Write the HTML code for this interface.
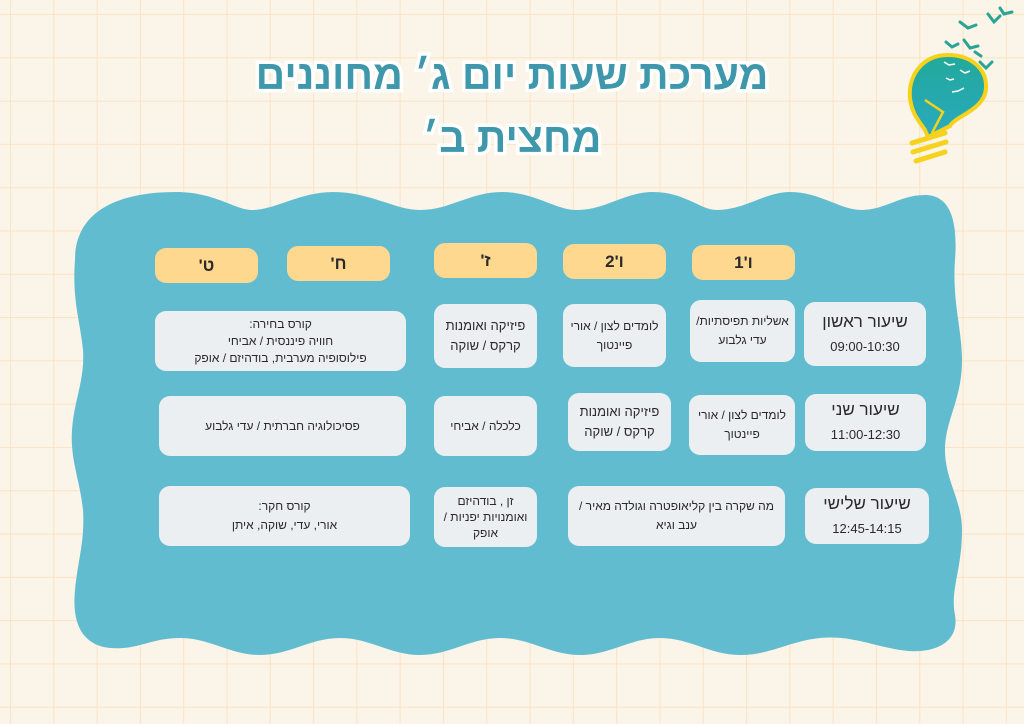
<!DOCTYPE html>
<html><head><meta charset="utf-8"><style>
body{margin:0;width:1024px;height:724px;overflow:hidden;position:relative;background:#fbf4e8;font-family:"Liberation Sans","Noto Sans CJK SC",sans-serif;}
.grid{position:absolute;inset:0;background-image:linear-gradient(to right,#fbe4c4 1px,transparent 1px),linear-gradient(to bottom,#fbe4c4 1px,transparent 1px);background-size:43.3px 43.3px;background-position:10px 14px;}
.t{position:absolute;left:0;width:1024px;text-align:center;font-weight:bold;font-size:41px;color:#3e97ab;-webkit-text-stroke:7px #fff;paint-order:stroke fill;direction:rtl;}
.b{position:absolute;display:flex;align-items:center;justify-content:center;text-align:center;direction:rtl;border-radius:11px;color:#2a2a2a;font-size:12px;line-height:19px;box-sizing:border-box;padding:0 4px;}
.h{background:#fed88f;font-weight:bold;font-size:17px;}
.c{background:#ebeff1;}
.p{font-size:17px;line-height:24px;}
.p small{font-size:13px;}
</style></head><body>
<div class="grid"></div>
<div class="t" style="top:52px;line-height:46px;">מערכת שעות יום ג׳ מחוננים</div>
<div class="t" style="top:115px;line-height:46px;">מחצית ב׳</div>

<svg style="position:absolute;left:0;top:0" width="1024" height="724">
<defs><linearGradient id="g" x1="0" y1="0" x2="0" y2="1"><stop offset="0" stop-color="#22a99a"/><stop offset="1" stop-color="#2aa9bf"/></linearGradient></defs>
<path fill="#62bcd0" d="M 75 260 C 75 210, 120 192, 176 192 C 215 192, 235 210, 252 210 C 275 210, 300 192, 333 192 C 370 192, 395 210, 420 210 C 450 210, 470 192, 502 192 C 535 192, 555 210, 577 210 C 605 210, 625 192, 653 192 C 685 192, 700 210, 717 210 C 745 210, 765 192, 790 192 C 820 192, 840 210, 862 210 C 885 210, 900 195, 925 195 C 950 195, 958 220, 955 260 C 952 300, 962 330, 962 360 C 962 400, 945 420, 945 450 C 945 480, 962 500, 962 530 C 962 570, 950 590, 955 615 C 960 645, 930 655, 900 650 C 870 645, 850 635, 820 638 C 790 641, 770 655, 740 655 C 710 655, 690 638, 660 638 C 630 638, 610 655, 580 655 C 550 655, 530 638, 500 638 C 470 638, 450 655, 420 655 C 390 655, 370 638, 340 638 C 310 638, 290 655, 260 655 C 230 655, 210 638, 180 638 C 150 638, 140 650, 110 648 C 80 645, 72 620, 75 590 C 78 560, 85 540, 83 510 C 80 480, 70 460, 72 430 C 74 400, 85 380, 83 350 C 80 320, 72 300, 75 260 Z"/>
<g>
<path d="M948 55 C 922 55 908 76 910 98 C 912 115 920 122 925 130 L 928 137 L 950 126 C 955 116 985 110 986 88 C 987 68 970 55 948 55 Z" fill="url(#g)" stroke="#f6d21a" stroke-width="4"/>
<path d="M925 100 L 943 112 L 932 133" fill="none" stroke="#f6d21a" stroke-width="2.5"/>
<g stroke="#f6d21a" stroke-width="5" fill="none" stroke-linecap="round"><path d="M912 143 L945 133"/><path d="M913 152 L946 142"/><path d="M916 161 L945 152"/></g>
<g fill="none" stroke="#fff" stroke-width="1.5"><path d="M944 62 l5 3 l6 -1"/><path d="M946 78 l4 2 l4 -1"/><path d="M960 70 l5 3 l5 -2"/><path d="M952 92 l6 -1 l6 -3"/></g>
<g fill="none" stroke="#2aa495" stroke-width="3" stroke-linecap="round"><path d="M960 22 l8 6 l8 -3"/><path d="M988 14 l6 8 l6 -6"/><path d="M1000 8 l4 6 l8 -2"/><path d="M946 42 l6 5 l6 -3"/><path d="M964 40 l6 8 l8 -2"/><path d="M980 62 l6 6 l6 -6"/><path d="M975 52 l6 4"/></g>
</g>
</svg>

<div class="b h" style="left:155px;top:248px;width:103px;height:35px">ט'</div>
<div class="b h" style="left:287px;top:246px;width:103px;height:35px">ח'</div>
<div class="b h" style="left:434px;top:243px;width:103px;height:35px">ז'</div>
<div class="b h" style="left:563px;top:244px;width:103px;height:35px">ו'2</div>
<div class="b h" style="left:692px;top:245px;width:103px;height:35px">ו'1</div>

<div class="b c p" style="left:804px;top:302px;width:122px;height:64px"><div>שיעור ראשון<br><small>09:00-10:30</small></div></div>
<div class="b c" style="left:690px;top:300px;width:105px;height:62px">אשליות תפיסתיות/ עדי גלבוע</div>
<div class="b c" style="left:563px;top:304px;width:103px;height:63px">לומדים לצון / אורי פיינטוך</div>
<div class="b c" style="left:434px;top:304px;width:103px;height:64px;font-size:13px;line-height:20px">פיזיקה ואומנות קרקס / שוקה</div>
<div class="b c" style="left:155px;top:311px;width:251px;height:60px;line-height:17px">קורס בחירה:<br>חוויה פיננסית / אביחי<br>פילוסופיה מערבית, בודהיזם / אופק</div>

<div class="b c p" style="left:805px;top:394px;width:121px;height:57px"><div>שיעור שני<br><small>11:00-12:30</small></div></div>
<div class="b c" style="left:689px;top:395px;width:106px;height:60px">לומדים לצון / אורי פיינטוך</div>
<div class="b c" style="left:568px;top:393px;width:103px;height:58px;font-size:13px;line-height:20px">פיזיקה ואומנות קרקס / שוקה</div>
<div class="b c" style="left:434px;top:396px;width:103px;height:60px">כלכלה / אביחי</div>
<div class="b c" style="left:159px;top:396px;width:247px;height:60px">פסיכולוגיה חברתית / עדי גלבוע</div>

<div class="b c p" style="left:805px;top:488px;width:124px;height:56px"><div>שיעור שלישי<br><small>12:45-14:15</small></div></div>
<div class="b c" style="left:568px;top:486px;width:217px;height:60px">מה שקרה בין קליאופטרה וגולדה מאיר / ענב וגיא</div>
<div class="b c" style="left:434px;top:487px;width:103px;height:60px;line-height:16px">זן , בודהיזם ואומנויות יפניות / אופק</div>
<div class="b c" style="left:159px;top:486px;width:251px;height:60px">קורס חקר:<br>אורי, עדי, שוקה, איתן</div>
</body></html>
